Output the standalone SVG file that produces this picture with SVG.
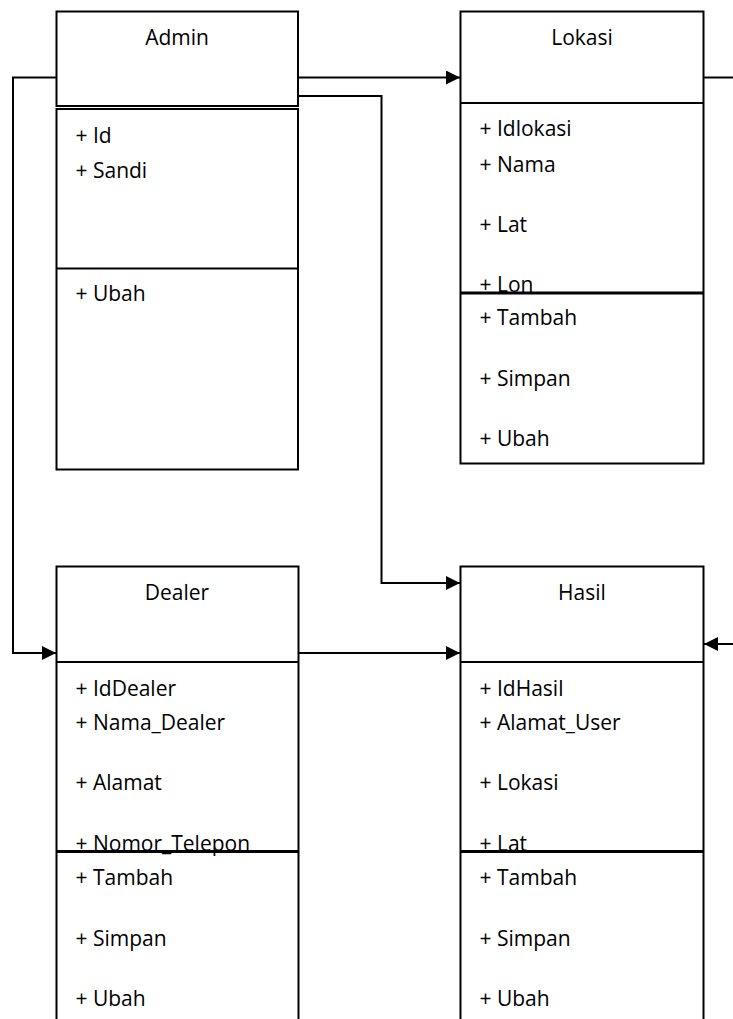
<svg xmlns="http://www.w3.org/2000/svg" width="733" height="1019" viewBox="0 0 733 1019">
  <defs>
    <marker id="arrow" viewBox="0 0 14 14" refX="14" refY="7" markerWidth="14" markerHeight="14" markerUnits="userSpaceOnUse" orient="auto">
      <path d="M0,0 L14,7 L0,14 Z" fill="#000"/>
    </marker>
    <style>
      .box { fill: #fff; stroke: #000; stroke-width: 2; }
      .div { stroke: #000; stroke-width: 2; }
      .thick { stroke: #000; stroke-width: 3; }
      .wire { fill: none; stroke: #000; stroke-width: 2; }
      text { font-family: "Open Sans", "Liberation Sans", sans-serif; font-size: 21px; fill: #000; }
      .title { text-anchor: middle; }
    </style>
  </defs>

  <!-- connectors -->
  <g id="connectors">
    <path class="wire" d="M56,77.5 H13 V653 H56" marker-end="url(#arrow)"/>
    <path class="wire" d="M298,77.5 H460" marker-end="url(#arrow)"/>
    <path class="wire" d="M298,96 H381.5 V583 H460" marker-end="url(#arrow)"/>
    <path class="wire" d="M298,653 H460" marker-end="url(#arrow)"/>
    <path class="wire" d="M704,77.5 H740"/>
    <path class="wire" d="M740,644 H704" marker-end="url(#arrow)"/>
  </g>

  <!-- Admin -->
  <g id="admin">
    <rect class="box" x="56.5" y="11.5" width="241.5" height="94.5"/>
    <rect class="box" x="56.5" y="109" width="241.5" height="360.5"/>
    <line class="div" x1="56.5" y1="268.5" x2="298" y2="268.5"/>
    <text class="title" x="177" y="45">Admin</text>
    <text x="75.5" y="143">+ Id</text>
    <text x="75.5" y="178">+ Sandi</text>
    <text x="75.5" y="301">+ Ubah</text>
  </g>

  <!-- Lokasi -->
  <g id="lokasi">
    <rect class="box" x="460.5" y="11.5" width="243" height="452"/>
    <line class="div" x1="460.5" y1="103" x2="703.5" y2="103"/>
    <text class="title" x="582" y="45">Lokasi</text>
    <text x="479.5" y="136">+ Idlokasi</text>
    <text x="479.5" y="172">+ Nama</text>
    <text x="479.5" y="232">+ Lat</text>
    <text x="479.5" y="292">+ Lon</text>
    <line class="thick" x1="460.5" y1="293" x2="703.5" y2="293"/>
    <text x="479.5" y="325">+ Tambah</text>
    <text x="479.5" y="386">+ Simpan</text>
    <text x="479.5" y="446">+ Ubah</text>
  </g>

  <!-- Dealer -->
  <g id="dealer">
    <rect class="box" x="56.5" y="566.5" width="242" height="470"/>
    <line class="div" x1="56.5" y1="662" x2="298.5" y2="662"/>
    <text class="title" x="177" y="600">Dealer</text>
    <text x="75.5" y="696">+ IdDealer</text>
    <text x="75.5" y="730">+ Nama_Dealer</text>
    <text x="75.5" y="790">+ Alamat</text>
    <text x="75.5" y="851">+ Nomor_Telepon</text>
    <line class="thick" x1="56.5" y1="851.5" x2="298.5" y2="851.5"/>
    <text x="75.5" y="885">+ Tambah</text>
    <text x="75.5" y="946">+ Simpan</text>
    <text x="75.5" y="1006">+ Ubah</text>
  </g>

  <!-- Hasil -->
  <g id="hasil">
    <rect class="box" x="460.5" y="566.5" width="243" height="470"/>
    <line class="div" x1="460.5" y1="662" x2="703.5" y2="662"/>
    <text class="title" x="582" y="600">Hasil</text>
    <text x="479.5" y="696">+ IdHasil</text>
    <text x="479.5" y="730">+ Alamat_User</text>
    <text x="479.5" y="790">+ Lokasi</text>
    <text x="479.5" y="851">+ Lat</text>
    <line class="thick" x1="460.5" y1="851.5" x2="703.5" y2="851.5"/>
    <text x="479.5" y="885">+ Tambah</text>
    <text x="479.5" y="946">+ Simpan</text>
    <text x="479.5" y="1006">+ Ubah</text>
  </g>
</svg>
